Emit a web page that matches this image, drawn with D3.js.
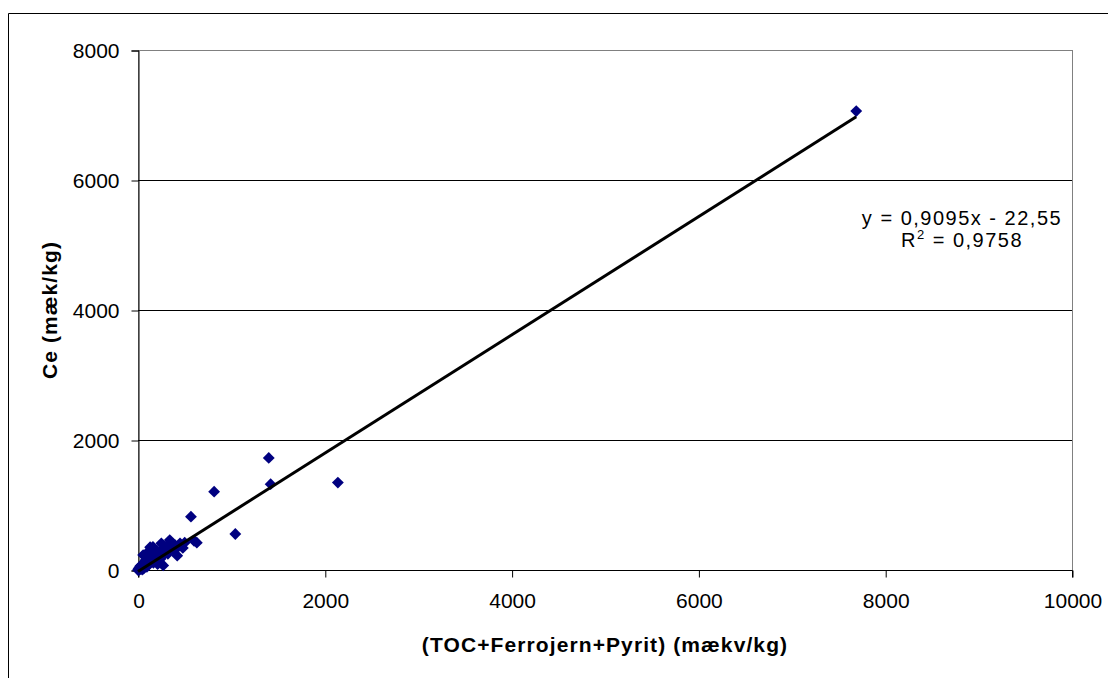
<!DOCTYPE html>
<html>
<head>
<meta charset="utf-8">
<script src="https://cdn.jsdelivr.net/npm/d3@7"></script>
<style>
  html, body { margin: 0; padding: 0; background: #fff; }
  svg { display: block; font-family: "Liberation Sans", Arial, sans-serif; }
</style>
</head>
<body>
<svg id="chart" width="1108" height="678"></svg>
<script>
// ---- data ----
const xValues = [7690, 2140, 1400, 1420, 815, 567, 1042, 600, 630,
  0, 5, 10, 15, 20, 25, 30, 40, 45, 50, 55, 60, 70, 80, 90, 95, 100, 110, 120, 130,
  140, 150, 160, 165, 170, 180, 190, 200, 210, 220, 230, 240, 250, 260, 270, 280,
  300, 320, 340, 350, 370, 390, 400, 420, 450, 480, 500];
const yValues = [7060, 1345, 1725, 1320, 1205, 820, 554, 450, 420,
  0, 15, 0, 40, 10, 60, 20, 80, 5, 40, 230, 20, 70, 150, 255, 50, 120, 80, 200, 350,
  160, 240, 355, 110, 190, 260, 140, 300, 90, 230, 280, 170, 410, 210, 70, 300,
  360, 250, 460, 320, 400, 300, 380, 220, 410, 340, 420];
const xTicks = [0, 2000, 4000, 6000, 8000, 10000];
const yTicks = [0, 2000, 4000, 6000, 8000];
const slope = 0.9095, intercept = -22.55;
const eqLine1 = "y = 0,9095x - 22,55";
const r2Label = "0,9758";
const xTitle = "(TOC+Ferrojern+Pyrit) (mækv/kg)";
const yTitle = "Ce (mæk/kg)";

// ---- layout ----
const plot = { left: 138, right: 1072, top: 50, bottom: 570 };
const svg = d3.select("#chart");

const x = d3.scaleLinear().domain([0, 10000]).range([plot.left, plot.right]);
const y = d3.scaleLinear().domain([0, 8000]).range([plot.bottom, plot.top]);

// outer chart border (left & top visible)
svg.append("path")
  .attr("d", `M8.5,678 V13.5 H1108`)
  .attr("fill", "none").attr("stroke", "#000").attr("stroke-width", 1);

// plot area border (gray)
svg.append("rect")
  .attr("x", plot.left + 0.5).attr("y", plot.top + 0.5)
  .attr("width", plot.right - plot.left).attr("height", plot.bottom - plot.top)
  .attr("fill", "none").attr("stroke", "#808080").attr("stroke-width", 1);

// gridlines
svg.append("g").selectAll("line")
  .data(yTicks.filter(d => d > 0))
  .join("line")
  .attr("x1", plot.left).attr("x2", plot.right)
  .attr("y1", d => Math.round(y(d)) + 0.5).attr("y2", d => Math.round(y(d)) + 0.5)
  .attr("stroke", d => d === 8000 ? "#808080" : "#000").attr("stroke-width", 1);

// axes
const xAxis = svg.append("g")
  .attr("transform", `translate(0.5,${plot.bottom + 0.5})`)
  .call(d3.axisBottom(x).tickValues(xTicks).tickSize(7).tickPadding(16).tickFormat(d3.format("d")));
const yAxis = svg.append("g")
  .attr("transform", `translate(${plot.left + 0.5},0.5)`)
  .call(d3.axisLeft(y).tickValues(yTicks).tickSize(7).tickPadding(12).tickFormat(d3.format("d")));
[xAxis, yAxis].forEach(a => {
  a.select(".domain").attr("stroke", "#000");
  a.selectAll(".tick line").attr("stroke", "#000");
  a.selectAll("text").attr("font-size", 21).attr("fill", "#000")
    .attr("font-family", "'Liberation Sans', Arial, sans-serif");
});
xAxis.select(".domain").attr("d", `M${plot.left},7V0H${plot.right}V7`);

// points (diamonds)
const pts = xValues.map((v, i) => [v, yValues[i]]);
svg.append("g").selectAll("path")
  .data(pts)
  .join("path")
  .attr("d", d3.symbol().type(d3.symbolSquare).size(70))
  .attr("transform", d => `translate(${x(d[0])},${y(d[1])}) rotate(45)`)
  .attr("fill", "#000080");

// trendline
const xMin = d3.min(xValues), xMax = d3.max(xValues);
svg.append("line")
  .attr("x1", x(xMin)).attr("y1", y(slope * xMin + intercept))
  .attr("x2", x(xMax)).attr("y2", y(slope * xMax + intercept))
  .attr("stroke", "#000").attr("stroke-width", 3);

// equation
const eq = svg.append("g").attr("font-size", 20).attr("text-anchor", "middle")
  .attr("fill", "#000").attr("letter-spacing", 1.5);
eq.append("text").attr("x", 962).attr("y", 225).text(eqLine1);
const t2 = eq.append("text").attr("x", 962).attr("y", 247);
t2.append("tspan").text("R");
t2.append("tspan").attr("dy", -8).attr("font-size", 13).text("2");
t2.append("tspan").attr("dy", 8).text(" = " + r2Label);

// axis titles
svg.append("text")
  .attr("x", (plot.left + plot.right) / 2).attr("y", 652)
  .attr("text-anchor", "middle").attr("font-size", 21).attr("font-weight", "bold")
  .attr("letter-spacing", 1.1)
  .text(xTitle);
svg.append("text")
  .attr("transform", `translate(57,${(plot.top + plot.bottom) / 2}) rotate(-90)`)
  .attr("text-anchor", "middle").attr("font-size", 21).attr("font-weight", "bold")
  .attr("letter-spacing", 1.1)
  .text(yTitle);
</script>
</body>
</html>
